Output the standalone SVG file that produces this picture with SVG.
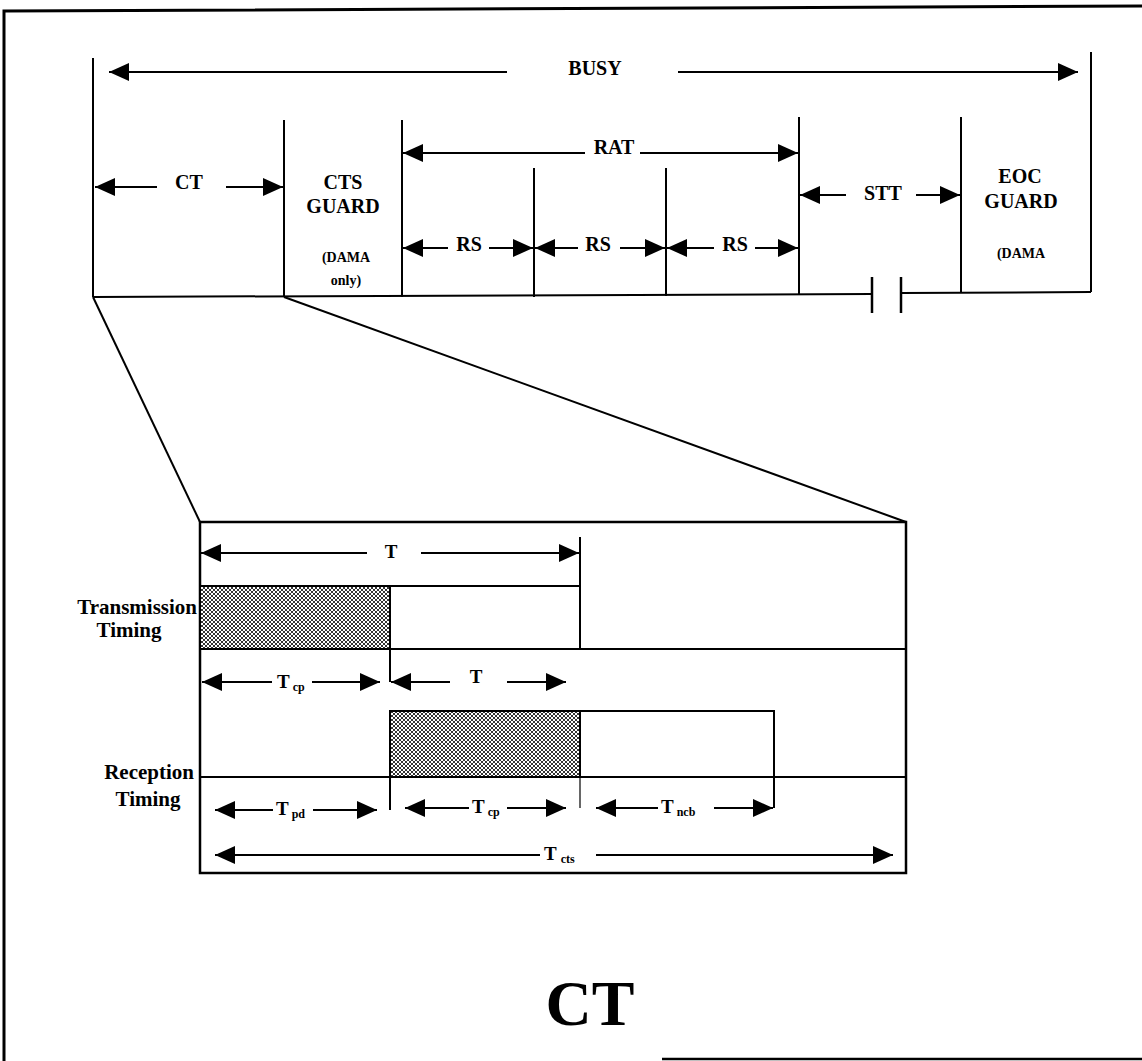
<svg xmlns="http://www.w3.org/2000/svg" width="1142" height="1061" viewBox="0 0 1142 1061">
<style>
.ln{stroke:#000;stroke-width:2;fill:none}
.bx{stroke:#000;stroke-width:2.5;fill:none}
.ar{stroke:#000;stroke-width:2;fill:none;marker-end:url(#ah)}
text{font-family:"Liberation Serif","DejaVu Serif","Times New Roman",serif;font-weight:bold;fill:#000}
.lb{font-size:20px;text-anchor:middle}
.sm{font-size:14px;text-anchor:middle}
.tl{font-size:19px}
.rl{font-size:21px}
.sb{font-size:12px}
.cap{font-size:64px;text-anchor:middle}
</style>
<defs>
<marker id="ah" viewBox="0 0 20 18" refX="20" refY="9" markerWidth="20" markerHeight="18" orient="auto" markerUnits="userSpaceOnUse">
<path d="M0,0 L20,9 L0,18 Z" fill="#000"/>
</marker>
<pattern id="hatch" width="4" height="4" patternUnits="userSpaceOnUse">
<rect width="4" height="4" fill="#fff"/>
<path d="M0,0 L4,4 M4,0 L0,4" stroke="#000" stroke-width="0.8"/>
</pattern>
</defs>
<rect width="1142" height="1061" fill="#fff"/>

<g id="frame">
<path class="bx" d="M4,1061 L4,11 L1142,6" style="stroke-width:3"/>
<line class="bx" x1="662" y1="1059" x2="1142" y2="1059"/>
</g>

<g id="busy-frame">
<line class="ln" x1="93" y1="58" x2="93" y2="297"/>
<line class="ln" x1="1091" y1="52" x2="1091" y2="292"/>
<polyline class="ln" points="93,297 872,294"/>
<polyline class="ln" points="901,293 1091,292"/>
<line class="ln" x1="872" y1="277" x2="872" y2="313" style="stroke-width:2.5"/>
<line class="ln" x1="901" y1="277" x2="901" y2="313" style="stroke-width:2.5"/>
</g>

<g id="ct-segment">
<text class="lb" x="189" y="189">CT</text>
</g>
<g id="cts-guard">
<line class="ln" x1="284" y1="120" x2="284" y2="297"/>
<text class="lb" x="343" y="189">CTS</text>
<text class="lb" x="343" y="213">GUARD</text>
<text class="sm" x="346" y="262">(DAMA</text>
<text class="sm" x="346" y="285">only)</text>
</g>
<g id="rat">
<line class="ln" x1="402" y1="120" x2="402" y2="297"/>
<line class="ln" x1="799" y1="117" x2="799" y2="295"/>
<text class="lb" x="614" y="154">RAT</text>
</g>
<g id="rs1"><text class="lb" x="469" y="251">RS</text></g>
<g id="rs2">
<line class="ln" x1="534" y1="168" x2="534" y2="297"/>
<text class="lb" x="598" y="251">RS</text>
</g>
<g id="rs3">
<line class="ln" x1="666" y1="168" x2="666" y2="296"/>
<text class="lb" x="735" y="251">RS</text>
</g>
<g id="stt"><text class="lb" x="883" y="200">STT</text></g>
<g id="eoc-guard">
<line class="ln" x1="961" y1="117" x2="961" y2="293"/>
<text class="lb" x="1020" y="183">EOC</text>
<text class="lb" x="1021" y="208">GUARD</text>
<text class="sm" x="1021" y="258">(DAMA</text>
</g>
<g id="busy"><text class="lb" x="595" y="75">BUSY</text></g>

<g id="zoom-lines">
<line class="ln" x1="93" y1="297" x2="200" y2="522"/>
<line class="ln" x1="284" y1="297" x2="906" y2="522"/>
</g>

<g id="ct-detail">
<rect class="bx" x="200" y="522" width="706" height="351"/>
<rect x="200" y="586" width="190" height="63" fill="url(#hatch)" stroke="#000" stroke-width="2"/>
<line class="ln" x1="390" y1="586" x2="580" y2="586"/>
<line class="ln" x1="580" y1="537" x2="580" y2="649"/>
<line class="ln" x1="200" y1="649" x2="906" y2="649"/>
<line class="ln" x1="390" y1="649" x2="390" y2="682"/>
<rect x="390" y="711" width="190" height="66" fill="url(#hatch)" stroke="#000" stroke-width="2"/>
<polyline class="ln" points="580,711 774,711 774,808"/>
<line class="ln" x1="200" y1="777" x2="906" y2="777"/>
<line class="ln" x1="390" y1="777" x2="390" y2="810"/>
<line class="ln" x1="580" y1="777" x2="580" y2="808" style="stroke-width:1.2"/>
<text class="rl" x="197" y="614" text-anchor="end">Transmission</text>
<text class="rl" x="129" y="637" text-anchor="middle">Timing</text>
<text class="rl" x="194" y="779" text-anchor="end">Reception</text>
<text class="rl" x="148" y="806" text-anchor="middle">Timing</text>
</g>

<g id="ct-labels">
<text class="tl" x="391" y="558" text-anchor="middle">T</text>
<text class="tl" x="277" y="688">T<tspan class="sb" dx="3" dy="3">cp</tspan></text>
<text class="tl" x="476" y="683" text-anchor="middle">T</text>
<text class="tl" x="276" y="815">T<tspan class="sb" dx="3" dy="3">pd</tspan></text>
<text class="tl" x="472" y="813">T<tspan class="sb" dx="3" dy="3">cp</tspan></text>
<text class="tl" x="661" y="813">T<tspan class="sb" dx="3" dy="3">ncb</tspan></text>
<text class="tl" x="544" y="860">T<tspan class="sb" dx="4" dy="3">cts</tspan></text>
</g>

<g id="caption"><text class="cap" x="590" y="1025">CT</text></g>

<g id="connectors">
<line class="ar" x1="507" y1="72" x2="109" y2="72"/>
<line class="ar" x1="678" y1="72" x2="1078" y2="72"/>
<line class="ar" x1="157" y1="187" x2="95" y2="187"/>
<line class="ar" x1="226" y1="187" x2="283" y2="187"/>
<line class="ar" x1="585" y1="153" x2="403" y2="153"/>
<line class="ar" x1="640" y1="153" x2="798" y2="153"/>
<line class="ar" x1="448" y1="248" x2="403" y2="248"/>
<line class="ar" x1="489" y1="248" x2="533" y2="248"/>
<line class="ar" x1="578" y1="248" x2="535" y2="248"/>
<line class="ar" x1="620" y1="248" x2="665" y2="248"/>
<line class="ar" x1="714" y1="248" x2="667" y2="248"/>
<line class="ar" x1="755" y1="248" x2="798" y2="248"/>
<line class="ar" x1="846" y1="195" x2="800" y2="195"/>
<line class="ar" x1="916" y1="195" x2="960" y2="195"/>
<line class="ar" x1="367" y1="553" x2="201" y2="553"/>
<line class="ar" x1="421" y1="553" x2="579" y2="553"/>
<line class="ar" x1="272" y1="682" x2="202" y2="682"/>
<line class="ar" x1="312" y1="682" x2="380" y2="682"/>
<line class="ar" x1="450" y1="682" x2="391" y2="682"/>
<line class="ar" x1="507" y1="682" x2="566" y2="682"/>
<line class="ar" x1="273" y1="810" x2="215" y2="810"/>
<line class="ar" x1="313" y1="810" x2="377" y2="810"/>
<line class="ar" x1="469" y1="808" x2="405" y2="808"/>
<line class="ar" x1="507" y1="808" x2="566" y2="808"/>
<line class="ar" x1="658" y1="808" x2="596" y2="808"/>
<line class="ar" x1="714" y1="808" x2="773" y2="808"/>
<line class="ar" x1="540" y1="855" x2="215" y2="855"/>
<line class="ar" x1="596" y1="855" x2="893" y2="855"/>
</g>
</svg>
